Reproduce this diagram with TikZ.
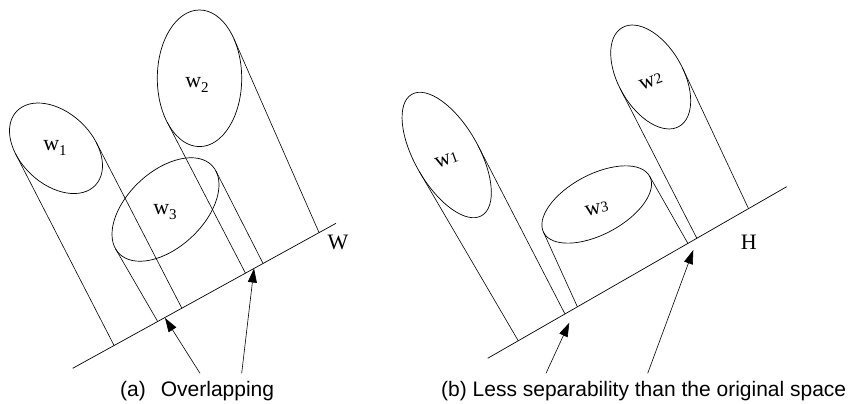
\documentclass[tikz,border=0pt]{standalone}
\usepackage{fontspec}
\setmainfont{Liberation Serif}
\newfontfamily\capfont{Liberation Sans}
\usetikzlibrary{calc, arrows.meta}

% w with a lowered index (a) and with an index on the line (b)
\newcommand{\wlow}[1]{w\raisebox{-5pt}{\fontsize{15}{15}\selectfont #1}}
\newcommand{\wflat}[1]{w{\fontsize{15}{15}\selectfont #1}}

\tikzset{
    ell/.style={line width=0.7pt},
    proj/.style={line width=0.6pt},
    baseln/.style={line width=0.7pt},
    pointer/.style={line width=0.6pt, -{Triangle[length=14pt,width=9pt]}},
    wlabel/.style={font=\fontsize{22}{24}\selectfont, inner sep=0pt},
    caption/.style={font=\capfont\fontsize{21}{24}\selectfont, anchor=base west, inner sep=0pt}
}

\begin{document}
\begin{tikzpicture}[x=1pt, y=1pt]
    \useasboundingbox (0,0) rectangle (851,404);
    % Projection lines W and H
    \coordinate (wa) at (72.7,35.7);
    \coordinate (wb) at (336,180.7);
    \coordinate (ha) at (487.7,45.7);
    \coordinate (hb) at (786.7,217.3);
    \draw[baseln] (wa) -- (wb);
    \draw[baseln] (ha) -- (hb);
    \node[wlabel] (wname) at (338,161.5) {W};
    \node[wlabel] (hname) at (748.7,162) {H};

    % Classes and their projections
    \foreach \cx/\cy/\a/\b/\r/\dl/\dr/\bl in {
        56/255.7/54/36/-43/-62.8/-62.7/w,
        199.5/325.7/42.2/68.3/0/-62.6/-66.3/w,
        165.5/194.5/64/38/43/-59.9/-63/w,
        446.7/249/70/32/-60/-59.7/-62.7/h,
        650.7/327/57/32.4/-60/-62.9/-64.9/h,
        596.7/199.5/60/30/28/-65.6/-60.4/h} {
        \draw[ell, rotate around={\r:(\cx,\cy)}] (\cx,\cy) ellipse ({\a pt} and {\b pt});
        \coordinate (ba) at (\bl a);
        \coordinate (bb) at (\bl b);
        \foreach \dir/\off in {\dl/-90, \dr/90} {
            \pgfmathsetmacro{\tp}{atan2(\b*sin((\dir)+(\off)-(\r)), \a*cos((\dir)+(\off)-(\r)))}
            \pgfmathsetmacro{\px}{\cx+\a*cos(\tp)*cos(\r)-\b*sin(\tp)*sin(\r)}
            \pgfmathsetmacro{\py}{\cy+\a*cos(\tp)*sin(\r)+\b*sin(\tp)*cos(\r)}
            \coordinate (t) at (\px,\py);
            \coordinate (tq) at ($(t)+(\dir:50)$);
            \draw[proj] (t) -- (intersection of t--tq and ba--bb);
        }
    }

    % Class names
    \node[wlabel] (wa1) at (55,256) {\wlow{1}};
    \node[wlabel] (wa2) at (197,319) {\wlow{2}};
    \node[wlabel] (wa3) at (165,192) {\wlow{3}};
    \node[wlabel, rotate=20] (wb1) at (446.7,244) {\wflat{1}};
    \node[wlabel, rotate=20] (wb2) at (650.8,322.3) {\wflat{2}};
    \node[wlabel, rotate=12] (wb3) at (596.7,195) {\wflat{3}};

    % Captions and arrows
    \node[caption] (capa) at (120,7) {(a)\hspace{15pt}Overlapping};
    \node[caption] (capb) at (441,7) {(b) Less separability than the original space};
    \coordinate (sa1) at (200,30.7);
    \coordinate (ea1) at (165,86);
    \coordinate (sa2) at (241.7,30.7);
    \coordinate (ea2) at (254,135.5);
    \coordinate (sb1) at (546,30.7);
    \coordinate (eb1) at (569.3,81.3);
    \coordinate (sb2) at (647.7,30.7);
    \coordinate (eb2) at (693.3,154);
    \draw[pointer] (sa1) -- (ea1);
    \draw[pointer] (sa2) -- (ea2);
    \draw[pointer] (sb1) -- (eb1);
    \draw[pointer] (sb2) -- (eb2);
\end{tikzpicture}
\end{document}
